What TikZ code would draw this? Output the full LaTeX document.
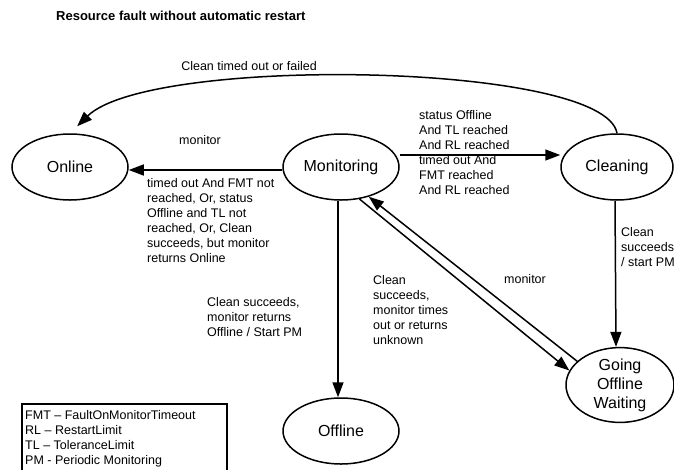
\documentclass[tikz,border=0pt]{standalone}
\usepackage{fontspec}
\setmainfont{Liberation Sans}
\usetikzlibrary{shapes.geometric,arrows.meta}

\tikzset{
  state/.style={ellipse, draw, line width=1.5pt, inner sep=0pt,
    minimum width=116pt, minimum height=66pt, font=\fontsize{16}{19}\selectfont, align=center},
  trans/.style={line width=1.5pt, -{Triangle[length=15pt,width=11pt]}},
  lbl/.style={inner sep=0pt, anchor=north west, align=left,
    font=\fontsize{12.5}{15}\selectfont}
}

\begin{document}
\begin{tikzpicture}[x=1pt,y=-1pt]
\useasboundingbox (0,0) rectangle (674,469);

\node[anchor=west, inner sep=0pt, font=\fontsize{13}{15}\selectfont\bfseries] (title) at (56,16)
  {Resource fault without automatic restart};

\node[state] (onl) at (70,167) {Online};
\node[state] (mon) at (341,167) {Monitoring};
\node[state, minimum width=112pt] (cln) at (617,167) {Cleaning};
\node[state, minimum width=108pt, minimum height=68pt] (gow) at (620,385) {Going\\Offline\\Waiting};
\node[state] (off) at (341,431) {Offline};

\draw[trans, shorten >=10pt] (cln.north) .. controls (605,62) and (150,55) .. (onl.north);
\draw[trans] ([yshift=-3pt]mon.west) -- ([yshift=-3pt]onl.east);
\draw[trans] ([yshift=12pt]mon.east) -- ([yshift=12pt]cln.west);
\draw[trans] ([xshift=-3pt]mon.south) -- ([xshift=-3pt]off.north);
\draw[trans] ([xshift=-2pt]cln.south) -- ([xshift=-4pt]gow.north);
\draw[trans] (mon.-60) -- (gow.164);
\draw[trans] (gow.151) -- (mon.-47);

\node[inner sep=0pt, font=\fontsize{12.5}{15}\selectfont] (l1) at (249,66) {Clean timed out or failed};
\node[inner sep=0pt, font=\fontsize{12.5}{15}\selectfont] (l2) at (200,140) {monitor};
\node[lbl] (l3) at (147,178) {timed out And FMT not\\reached, Or, status\\Offline and TL not\\reached, Or, Clean\\succeeds, but monitor\\returns Online};
\node[lbl] (l4) at (419,110) {status Offline\\And TL reached\\And RL reached\\timed out And\\FMT reached\\And RL reached};
\node[lbl] (l5) at (621,227) {Clean\\succeeds\\/ start PM};
\node[inner sep=0pt, font=\fontsize{12.5}{15}\selectfont] (l6) at (525,279) {monitor};
\node[lbl] (l7) at (373,275) {Clean\\succeeds,\\monitor times\\out or returns\\unknown};
\node[lbl] (l8) at (207,297) {Clean succeeds,\\monitor returns\\Offline / Start PM};

\draw[line width=1.2pt] (22,404) rectangle (227,480);
\node[lbl] (leg) at (25,410) {FMT -- FaultOnMonitorTimeout\\RL -- RestartLimit\\TL -- ToleranceLimit\\PM - Periodic Monitoring};

\end{tikzpicture}
\end{document}
